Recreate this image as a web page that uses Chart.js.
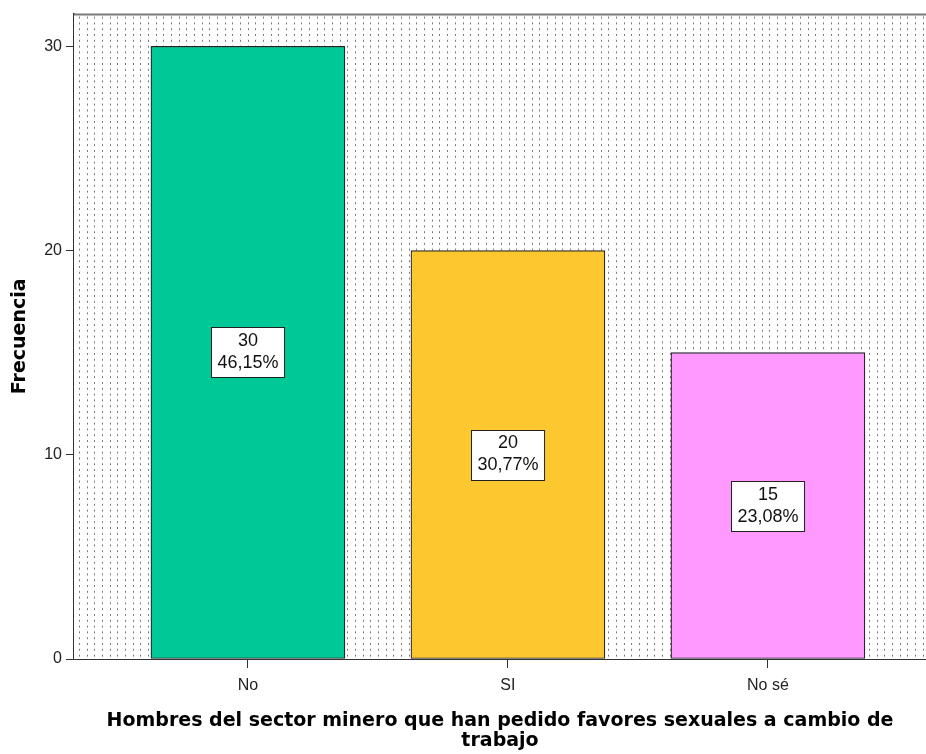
<!DOCTYPE html>
<html>
<head>
<meta charset="utf-8">
<script src="https://cdn.jsdelivr.net/npm/chart.js@4"></script>
<style>
  html, body { margin: 0; padding: 0; background: #fff; overflow: hidden; }
  #wrap { width: 926px; height: 754px; }
</style>
</head>
<body>
<div id="wrap"><canvas id="c" width="926" height="754"></canvas></div>
<script>
// Values.
const categories = ['No', 'SI', 'No sé'];
const counts = [30, 20, 15];
const barColors = ['#00c896', '#fdc82f', '#ff99ff'];
const yTicks = [0, 10, 20, 30];
const xTitle = ['Hombres del sector minero que han pedido favores sexuales a cambio de', 'trabajo'];

const total = counts.reduce((a, b) => a + b, 0);
const pctLabels = counts.map(v => (v / total * 100).toFixed(2).replace('.', ',') + '%');
const FONT = "'Liberation Sans', Arial, sans-serif";
const TITLE_FONT = "'DejaVu Sans', sans-serif";

// Dotted vertical hatch behind the bars, plus the grey top frame line.
const backdrop = {
  id: 'backdrop',
  beforeDatasetsDraw(chart) {
    const { ctx, chartArea: a } = chart;
    ctx.save();
    ctx.fillStyle = '#fff';
    ctx.fillRect(a.left, a.top, a.right - a.left, a.bottom - a.top);
    ctx.strokeStyle = '#7a7a7a';
    ctx.lineWidth = 1;
    ctx.setLineDash([2, 3.8]);
    for (let x = a.left + 5; x < a.right; x += 7.67) {
      const px = Math.round(x) + 0.5;
      ctx.beginPath();
      ctx.moveTo(px, a.top + 3);
      ctx.lineTo(px, a.bottom);
      ctx.stroke();
    }
    ctx.setLineDash([]);
    ctx.strokeStyle = '#7a7a7a';
    ctx.lineWidth = 2;
    ctx.beginPath();
    ctx.moveTo(a.left, a.top + 1);
    ctx.lineTo(a.right, a.top + 1);
    ctx.stroke();
    ctx.restore();
  }
};

// Boxed count / percent labels in the middle of every bar.
const boxLabels = {
  id: 'boxLabels',
  afterDatasetsDraw(chart) {
    const { ctx } = chart;
    const meta = chart.getDatasetMeta(0);
    ctx.save();
    ctx.font = '18px ' + FONT;
    ctx.textAlign = 'center';
    ctx.textBaseline = 'middle';
    meta.data.forEach((bar, i) => {
      const cy = (bar.y + bar.base) / 2;
      const w = Math.max(ctx.measureText(String(counts[i])).width, ctx.measureText(pctLabels[i]).width) + 12;
      const h = 50;
      const x0 = Math.round(bar.x - w / 2) + 0.5;
      const y0 = Math.round(cy - h / 2) + 0.5;
      ctx.fillStyle = '#fff';
      ctx.fillRect(x0, y0, w, h);
      ctx.strokeStyle = '#222';
      ctx.lineWidth = 1;
      ctx.strokeRect(x0, y0, w, h);
      ctx.fillStyle = '#111';
      ctx.fillText(String(counts[i]), bar.x, cy - 11);
      ctx.fillText(pctLabels[i], bar.x, cy + 11);
    });
    ctx.restore();
  }
};

new Chart(document.getElementById('c'), {
  type: 'bar',
  data: {
    datasets: [{
      data: counts.map((v, i) => ({ x: i, y: v })),
      backgroundColor: barColors,
      borderColor: '#222',
      borderWidth: 1.2,
      borderSkipped: false,
      barThickness: 194
    }]
  },
  options: {
    responsive: false,
    animation: false,
    layout: { padding: { top: 13, left: 0, right: 0, bottom: 0 } },
    plugins: { legend: { display: false }, tooltip: { enabled: false } },
    scales: {
      x: {
        type: 'linear',
        offset: false,
        min: -0.669,
        max: 2.608,
        afterBuildTicks: s => { s.ticks = categories.map((_, i) => ({ value: i })); },
        afterFit: s => { s.height = 95; },
        ticks: {
          callback: v => categories[v],
          color: '#222',
          font: { family: FONT, size: 16 },
          padding: 8,
          maxRotation: 0
        },
        grid: { offset: false, drawOnChartArea: false, color: '#333', tickLength: 9 },
        border: { color: '#333', width: 2 },
        title: {
          display: true,
          text: xTitle,
          color: '#000',
          font: { family: TITLE_FONT, size: 19, weight: 'bold', lineHeight: 1.05 },
          padding: { top: 0, bottom: 3 }
        }
      },
      y: {
        min: 0,
        max: 31.6,
        afterBuildTicks: s => { s.ticks = yTicks.map(v => ({ value: v })); },
        afterFit: s => { s.width = 74; },
        ticks: { color: '#222', font: { family: FONT, size: 16 }, padding: 4 },
        grid: { drawOnChartArea: false, color: '#333', tickLength: 8 },
        border: { color: '#333', width: 2 },
        title: {
          display: true,
          text: 'Frecuencia',
          color: '#000',
          font: { family: TITLE_FONT, size: 19, weight: 'bold' },
          padding: { top: 9, bottom: 0 }
        }
      }
    }
  },
  plugins: [backdrop, boxLabels]
});
</script>
</body>
</html>
